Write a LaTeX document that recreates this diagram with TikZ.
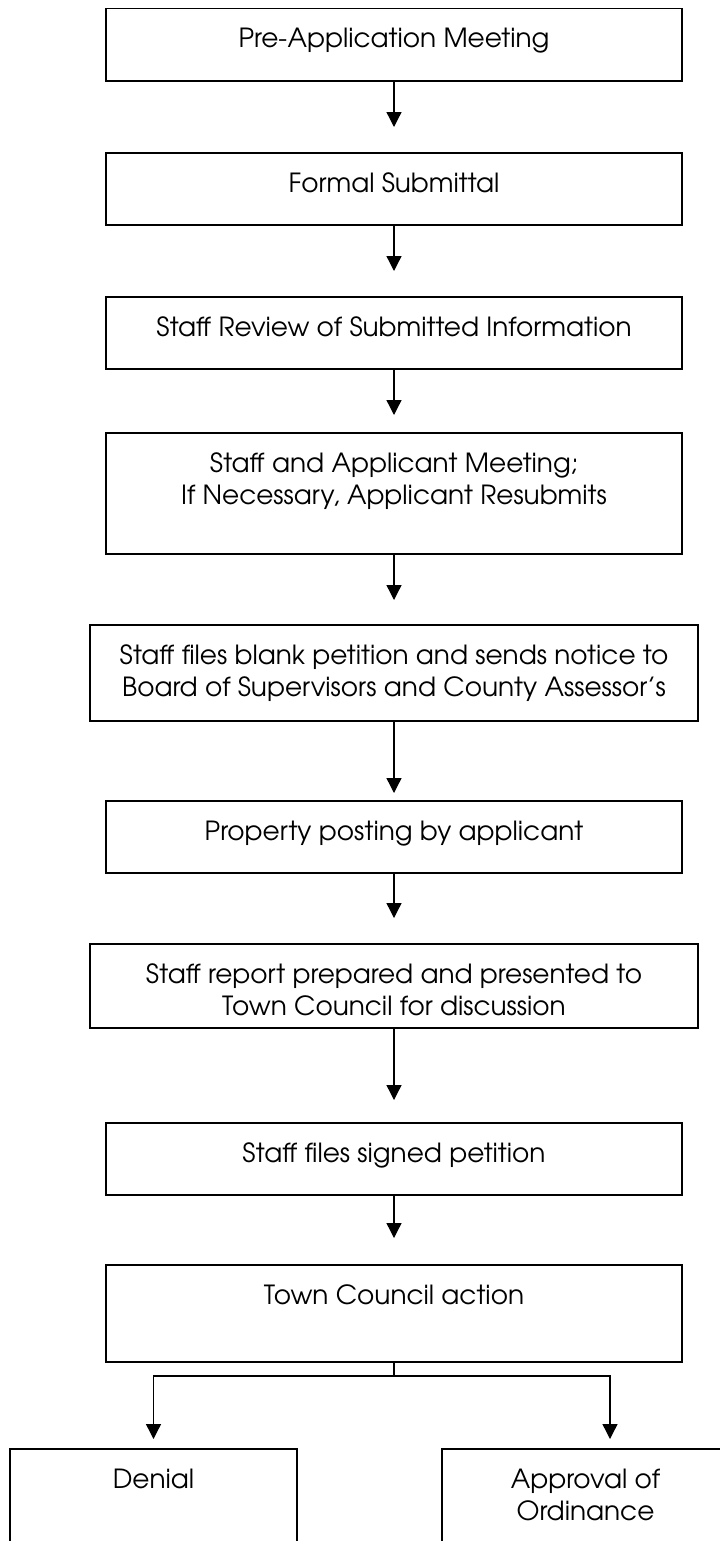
\documentclass[tikz,border=0pt]{standalone}
\usepackage{fontspec}
\setmainfont{TeX Gyre Adventor}
\usetikzlibrary{arrows.meta}
\newcommand{\steptxt}[3]{\parbox[t][#2][t]{#1}{\centering\rule{0pt}{0.79cm}#3}}

\begin{document}
\begin{tikzpicture}[line width=0.75pt,
    stepbox/.style={draw, line width=1.1pt, anchor=north, inner sep=0pt,
      font=\fontsize{15}{18.2}\selectfont},
    flow/.style={-{Triangle[length=0.3cm,width=0.3cm]}}]
  \useasboundingbox (0,0) rectangle (14.4,-30.82);
  % main column
  \node[stepbox] (pre) at (7.88,-0.15) {\steptxt{11.52cm}{1.45cm}{Pre-Application Meeting}};
  \node[stepbox] (formal) at (7.88,-3.04) {\steptxt{11.52cm}{1.44cm}{Formal Submittal}};
  \node[stepbox] (review) at (7.88,-5.92) {\steptxt{11.52cm}{1.44cm}{Staff Review of Submitted Information}};
  \node[stepbox] (meet) at (7.88,-8.64) {\steptxt{11.52cm}{2.42cm}{Staff and Applicant Meeting;\\ If Necessary, Applicant Resubmits}};
  \node[stepbox] (notice) at (7.88,-12.48) {\steptxt{12.16cm}{1.92cm}{Staff files blank petition and sends notice to\\ Board of Supervisors and County Assessor’s}};
  \node[stepbox] (posting) at (7.88,-16.00) {\steptxt{11.52cm}{1.44cm}{Property posting by applicant}};
  \node[stepbox] (report) at (7.88,-18.86) {\steptxt{12.16cm}{1.68cm}{Staff report prepared and presented to\\ Town Council for discussion}};
  \node[stepbox] (signed) at (7.88,-22.44) {\steptxt{11.52cm}{1.44cm}{Staff files signed petition}};
  \node[stepbox] (action) at (7.88,-25.28) {\steptxt{11.52cm}{1.94cm}{Town Council action}};
  % outcomes
  \node[stepbox] (denial) at (3.07,-28.96) {\steptxt{5.74cm}{2cm}{Denial}};
  \node[stepbox] (approval) at (11.71,-28.96) {\steptxt{5.74cm}{2cm}{Approval of\\ Ordinance}};

  \foreach \a/\b/\g in {pre/formal/0.5, formal/review/0.5, review/meet/0.34,
      meet/notice/0.48, notice/posting/0.14, posting/report/0.5,
      report/signed/0.44, signed/action/0.52}
    \draw[flow, shorten >=\g cm] (\a) -- (\b);

  % split below council action
  \coordinate (split) at (7.88,-27.52);
  \draw (action) -- (split);
  \draw[flow, shorten >=0.18cm] (split) -| (denial.north);
  \draw[flow, shorten >=0.18cm] (split) -| ([xshift=0.49cm]approval.north);
\end{tikzpicture}
\end{document}
